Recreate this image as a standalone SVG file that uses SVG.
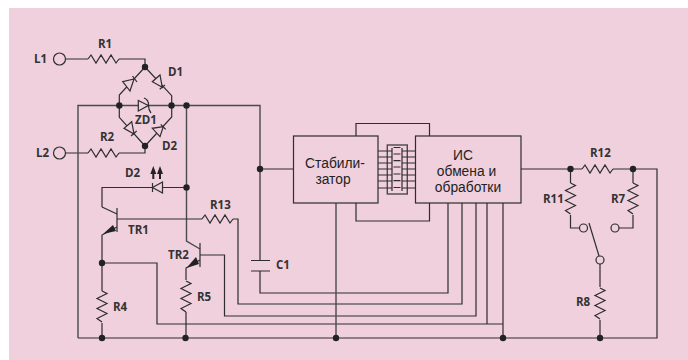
<svg xmlns="http://www.w3.org/2000/svg" width="688" height="360" viewBox="0 0 688 360">
<style>
.w{fill:none;stroke:#2e2e2e;stroke-width:1.2;stroke-linejoin:miter}
.g{fill:none;stroke:#4a4a4a;stroke-width:1.4}
.c{fill:#efd0dc;stroke:#2e2e2e;stroke-width:1.2}
.d{fill:#222;stroke:none}
.t{font-family:"Open Sans","Liberation Sans",sans-serif;font-size:11.5px;font-weight:700;fill:#333}
.b{font-family:"Liberation Sans",Arial,sans-serif;font-size:13.8px;fill:#222;text-anchor:middle}
</style>
<defs>
<polyline id="rh" class="w" points="0,0 3,-4 8,4 13,-4 18,4 23,-4 28,4 31,0"/>
<polyline id="rv" class="w" points="0,0 5,2.500 -5,7.500 5,12.500 -5,17.500 5,22.500 -5,27.500 0,31"/>
<circle id="n" class="d" r="3.200"/>
</defs>
<rect x="9" y="8" width="679" height="352" fill="#efd0dc"/>

<g id="connectors">
<path class="w" d="M65 59H88M119 59H145V67"/>
<path class="w" d="M65 153H88M119 153H145V146"/>
<path class="w" d="M145 67L119.300 95V105.500V117.300L145 146L171.700 117V105.500V95.700L145 67"/>
<path class="g" d="M78 338V105.500H260V169"/>
<path class="g" d="M186.500 105.500V241L200 249"/>
<path class="w" d="M102 207V187.500H186"/>
<path class="w" d="M102 207L117 214M117 219H202M233 219H238V304H462V203"/>
<path class="w" d="M117 227L102 235V291M102 323V338M102 263H157V324H503"/>
<path class="w" d="M200 255H224.500V316H476V203"/>
<path class="w" d="M200 260L186 268V280M186 312V338"/>
<path class="w" d="M260 169V260.500M260 271V293H448V203"/>
<path class="w" d="M260 169H293.500M521 169H582M613 169H657V338H78"/>
<path class="g" d="M336 203V338"/>
<path class="w" d="M356 136V123.500H429.500V136M356 203V221H429.500V203"/>
<path class="w" d="M487 203V324M503 203V338"/>
<path class="w" d="M570.500 169V183M570.500 215V228H579.500M633 169V183M633 215V228H619"/>
<path class="w" d="M600 264V287M600 320V338"/>
</g>

<g id="L1"><circle class="c" cx="59.500" cy="59" r="6"/><text class="t" x="34" y="63">L1</text></g>
<g id="L2"><circle class="c" cx="59.500" cy="153" r="6"/><text class="t" x="36" y="157">L2</text></g>
<g id="R1"><use href="#rh" x="88" y="59"/><text class="t" x="98" y="48">R1</text></g>
<g id="R2"><use href="#rh" x="88" y="153"/><text class="t" x="100" y="141">R2</text></g>
<g id="D1">
<polygon class="c" points="134,79 122.700,81.700 130,91"/><path class="w" d="M132.500 76L137 82"/>
<polygon class="c" points="162.300,87.300 152.300,81.700 160,75"/><path class="w" d="M159.700 89.300L165 85"/>
<text class="t" x="168" y="76">D1</text></g>
<g id="D2-bridge">
<polygon class="c" points="134,134 124,128.300 131.700,121.700"/><path class="w" d="M131 136L136.700 131"/>
<polygon class="c" points="163.300,126.700 152.300,128.300 160,136.700"/><path class="w" d="M160.700 124.300L165.700 129.300"/>
<text class="t" x="162" y="150">D2</text></g>
<g id="ZD1">
<polygon class="c" points="148.300,105.500 138.300,100.500 138.300,111"/><path class="w" d="M144 98Q149 100 148.500 105.500Q148.500 110 151 113"/>
<text class="t" x="135" y="124">ZD1</text></g>
<g id="D2-led">
<polygon class="c" points="152.500,187.500 162.500,182 162.500,193"/><path class="w" d="M152.500 183V192"/>
<path class="d" d="M153.300 166L156.300 174H154.300V179H152.300V174H150.300ZM160 166L163 174H161V179H159V174H157Z"/>
<text class="t" x="125" y="177">D2</text></g>
<g id="TR1">
<path class="w" d="M117 208V232"/>
<polygon class="d" points="103,234 113,225 116,231"/>
<text class="t" x="128" y="234">TR1</text></g>
<g id="TR2">
<path class="w" d="M200 243V267"/>
<polygon class="d" points="186.500,268 196,257 199,264"/>
<text class="t" x="168" y="259">TR2</text></g>
<g id="R13"><use href="#rh" x="202" y="219"/><text class="t" x="210" y="209">R13</text></g>
<g id="R4"><use href="#rv" x="102" y="291"/><text class="t" x="113" y="311">R4</text></g>
<g id="R5"><use href="#rv" x="186" y="281"/><text class="t" x="197" y="301">R5</text></g>
<g id="C1"><path class="w" d="M251 260.500H270M251 271H270"/><text class="t" x="276" y="269">C1</text></g>
<g id="stabilizer"><rect class="w" x="293.500" y="136" width="84.500" height="67"/>
<text class="b" x="335" y="168">Стабили-</text><text class="b" x="333" y="184">затор</text></g>
<g id="transformer">
<rect class="g" x="387.300" y="145" width="20" height="49"/>
<path class="w" d="M392 148V191M402 148V191"/>
<path class="w" d="M378 151H392M378 157H392M378 163H392M378 169H392M378 175H392M378 181H392M378 188H392M402 151H415.500M402 157H415.500M402 163H415.500M402 169H415.500M402 175H415.500M402 181H415.500M402 188H415.500"/>
<path class="w" d="M393.500 147.500H400.500M393.500 154H400.500M393.500 160.700H400.500M393.500 167H400.500M393.500 174H400.500M393.500 180.700H400.500M393.500 187.500H400.500"/>
</g>
<g id="ic"><rect class="w" x="415.500" y="136" width="105.500" height="67"/>
<text class="b" x="463" y="160">ИС</text><text class="b" x="466.500" y="176">обмена и</text><text class="b" x="468" y="192">обработки</text></g>
<g id="R12"><use href="#rh" x="582" y="169"/><text class="t" x="590" y="157">R12</text></g>
<g id="R11"><use href="#rv" x="570.500" y="183"/><text class="t" x="543" y="203">R11</text></g>
<g id="R7"><use href="#rv" x="633" y="183"/><text class="t" x="611" y="203">R7</text></g>
<g id="R8"><use href="#rv" x="600" y="288"/><text class="t" x="576" y="306">R8</text></g>
<g id="switch">
<circle class="c" cx="583.500" cy="228" r="4"/><circle class="c" cx="615" cy="228" r="4"/><circle class="c" cx="600" cy="260" r="4"/>
<path class="w" d="M589 223L599 256"/></g>
<g id="junctions">
<use href="#n" x="145" y="67"/><use href="#n" x="119.300" y="105.500"/><use href="#n" x="171.500" y="105.500"/><use href="#n" x="186.500" y="105.500"/><use href="#n" x="145" y="146"/>
<use href="#n" x="186.500" y="187.500"/><use href="#n" x="260" y="169"/><use href="#n" x="102" y="263"/>
<use href="#n" x="102" y="338"/><use href="#n" x="185.500" y="338"/><use href="#n" x="336" y="338"/><use href="#n" x="503" y="338"/><use href="#n" x="600" y="338"/>
<use href="#n" x="570.500" y="169"/><use href="#n" x="633" y="169"/>
</g>
</svg>
